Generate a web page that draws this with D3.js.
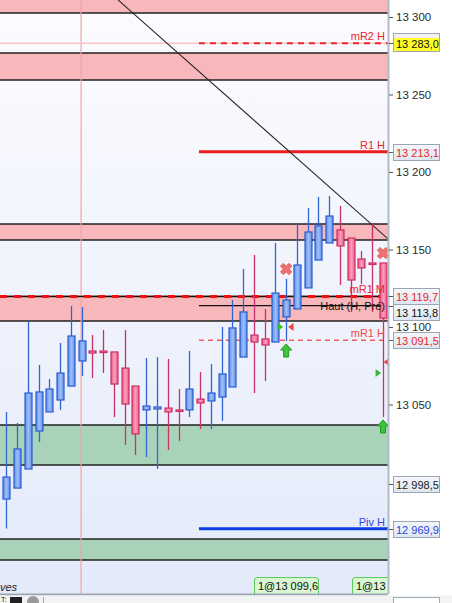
<!DOCTYPE html>
<html><head><meta charset="utf-8">
<script src="https://cdn.jsdelivr.net/npm/d3@7/dist/d3.min.js"></script>
<style>html,body{margin:0;padding:0;background:#fff;overflow:hidden}svg{display:block;font-family:"Liberation Sans",Arial,sans-serif}</style>
</head><body>
<svg id="c" width="452" height="603"></svg>
<script>
// ---- data ----
const opens  = [12989.0,12996.1,13008.4,13032.9,13045.2,13052.9,13061.9,13078.1,13084.5,13084.5,13083.9,13073.5,13061.9,13046.5,13047.1,13047.7,13046.5,13046.5,13053.5,13052.3,13054.8,13061.3,13080.6,13094.8,13092.3,13090.3,13106.5,13111.6,13125.2,13143.2,13154.2,13162.6,13157.4,13143.9,13141.3,13141.3];
const highs  = [13045.2,13038.1,13103.9,13075.5,13066.5,13089.7,13113.5,13112.9,13094.8,13098.1,13083.9,13098.1,13061.9,13080.0,13080.6,13079.4,13060.0,13084.5,13071.0,13076.1,13100.0,13117.4,13137.4,13146.5,13111.6,13154.2,13131.0,13166.5,13176.8,13183.9,13184.5,13178.1,13157.4,13149.0,13167.1,13141.3];
const lows   = [12970.0,12996.1,13008.4,13025.8,13045.2,13046.5,13061.9,13068.4,13067.1,13070.3,13041.9,13023.9,13017.4,13016.1,13008.4,13020.6,13026.5,13041.9,13034.2,13034.2,13039.4,13061.3,13080.6,13057.4,13065.2,13090.3,13091.0,13111.6,13125.2,13143.2,13154.2,13127.1,13109.7,13127.7,13109.7,13041.9];
const closes = [13003.2,13021.3,13057.4,13058.1,13060.0,13070.3,13094.2,13091.0,13083.2,13083.9,13063.2,13050.3,13031.0,13049.0,13048.4,13045.2,13046.3,13060.0,13051.0,13057.4,13069.7,13099.4,13109.7,13090.3,13088.4,13121.9,13117.4,13140.0,13161.3,13165.2,13171.6,13152.3,13130.3,13138.1,13141.0,13105.8];

const tickValues = [13300,13250,13200,13150,13100,13050];

const pinkZoneLow  = [13302.6,13259.4,13156.1,13103.9];
const pinkZoneHigh = [13330.0,13276.8,13166.5,13119.7];
const greenZoneLow  = [13011.0,12949.7];
const greenZoneHigh = [13036.8,12963.2];

const levelNames  = ["mR2 H","R1 H","mR1 M","Haut (H, Pré)","mR1 H","Piv H"];
const levelValues = [13283.0,13213.1,13119.7,13113.8,13091.5,12969.9];
const levelStart  = [17.9,17.9,-1,17.9,17.9,17.9]; // bar index where line begins

const boxValues = [13283.0,13213.1,13119.7,13113.8,13091.5,12998.5,12969.9];

const trendIdx = [10.38,35.47];
const trendVal = [13311.0,13156.8];
const cursorIdx = 6.95;

const crossIdx = [26.0,35.0];           const crossVal = [13137.4,13147.7];
const arrowIdx = [26.0,35.0];           const arrowVal = [13084.5,13035.5];
const triRIdx  = [25.44,34.54];         const triRVal  = [13100.0,13070.3];
const triLIdx  = [26.46,35.33];         const triLVal  = [13100.0,13077.4];

const orderLabels = ["1@13 099,6","1@13 099,6"];
const orderIdx = [23.0,32.13];

// ---- setup ----
const W = 452, H = 603, PW = 388, PB = 594;
const svg = d3.select("#c");
const x = d3.scaleLinear().domain([0,35]).range([6.3,383]);
const y = d3.scaleLinear().domain([13050,13300]).range([404.5,17]);
const loc = d3.formatLocale({decimal:",",thousands:" ",grouping:[3],currency:["",""]});
const fTick = loc.format(",d"), fBox = loc.format(",.1f");

const defs = svg.append("defs");
const bg = defs.append("linearGradient").attr("id","bg").attr("x1",0).attr("x2",0).attr("y1",0).attr("y2",1);
bg.append("stop").attr("offset","0%").attr("stop-color","#fcfcff");
bg.append("stop").attr("offset","100%").attr("stop-color","#e4eafa");
function hgrad(id, edge, mid){
  const g = defs.append("linearGradient").attr("id",id).attr("x1",0).attr("x2",1).attr("y1",0).attr("y2",0);
  g.append("stop").attr("offset","0%").attr("stop-color",edge);
  g.append("stop").attr("offset","50%").attr("stop-color",mid);
  g.append("stop").attr("offset","100%").attr("stop-color",edge);
}
hgrad("gBlue","#5f8fe8","#9dbdf9");
hgrad("gPink","#ec5c88","#fa9cbb");
const bx = defs.append("linearGradient").attr("id","gBox").attr("x1",0).attr("x2",0).attr("y1",0).attr("y2",1);
bx.append("stop").attr("offset","0%").attr("stop-color","#f4f7fb");
bx.append("stop").attr("offset","100%").attr("stop-color","#dde6f1");
defs.append("clipPath").attr("id","plot").append("rect").attr("x",0).attr("y",0).attr("width",PW).attr("height",PB);

svg.append("rect").attr("width",W).attr("height",H).attr("fill","#ffffff");
svg.append("rect").attr("width",PW).attr("height",PB).attr("fill","url(#bg)");

const plot = svg.append("g").attr("clip-path","url(#plot)");

// zones
function zone(lo, hi, fill){
  plot.append("rect").attr("x",0).attr("width",PW).attr("y",y(hi)).attr("height",y(lo)-y(hi)).attr("fill",fill);
  [lo,hi].forEach(v=>plot.append("line").attr("x1",0).attr("x2",PW).attr("y1",y(v)).attr("y2",y(v)).attr("stroke","#222").attr("stroke-width",1.5));
}
pinkZoneLow.forEach((lo,i)=>zone(lo,pinkZoneHigh[i],"#f8b7ba"));
greenZoneLow.forEach((lo,i)=>zone(lo,greenZoneHigh[i],"#a8d3b8"));

// cursor
plot.append("line").attr("x1",x(cursorIdx)).attr("x2",x(cursorIdx)).attr("y1",0).attr("y2",H).attr("stroke","#f2a4a4").attr("stroke-width",1.2);

// faint extension of mR2
plot.append("line").attr("x1",0).attr("x2",PW).attr("y1",y(levelValues[0])).attr("y2",y(levelValues[0])).attr("stroke","#f6c4c6").attr("stroke-width",1.5);

// level lines
const lvlStyle = [
  {c:"#e8262e",w:2,d:"6,5",tc:"#e8262e"},
  {c:"#ee1c1c",w:3,d:null,tc:"#e8262e"},
  {c:"#ee1111",w:3,d:"7,7",tc:"#e8262e"},
  {c:"#111111",w:1.2,d:null,tc:"#111111"},
  {c:"#f25c5c",w:1.5,d:"5,4",tc:"#f04848"},
  {c:"#0a3ee0",w:3,d:null,tc:"#2a46e0"}
];
levelValues.forEach((v,i)=>{
  const s = lvlStyle[i];
  const x1 = levelStart[i] < 0 ? 0 : x(levelStart[i]);
  if(i===2){
    plot.append("line").attr("x1",0).attr("x2",PW).attr("y1",y(v)).attr("y2",y(v)).attr("stroke","#111").attr("stroke-width",1.2);
  }
  const l = plot.append("line").attr("x1",x1).attr("x2",PW).attr("y1",y(v)).attr("y2",y(v)).attr("stroke",s.c).attr("stroke-width",s.w);
  if(s.d) l.attr("stroke-dasharray",s.d);
});

// trend line
plot.append("line").attr("x1",x(trendIdx[0])).attr("y1",y(trendVal[0])).attr("x2",x(trendIdx[1])).attr("y2",y(trendVal[1])).attr("stroke","#222").attr("stroke-width",1.1);

// candles
const cg = plot.append("g");
opens.forEach((o,i)=>{
  const c = closes[i];
  const isBlue = c >= o;
  const cx = Math.round(x(i))+0.5;
  const wick = isBlue ? "#2f64d4" : "#c8306a";
  cg.append("line").attr("x1",cx).attr("x2",cx).attr("y1",y(highs[i])).attr("y2",y(lows[i])).attr("stroke",wick).attr("stroke-width",1.3);
  const top = y(Math.max(o,c)), bot = y(Math.min(o,c));
  const h = Math.max(bot-top, 1.5);
  cg.append("rect").attr("x",cx-3.5).attr("width",7).attr("y",top).attr("height",h)
    .attr("fill", isBlue ? "url(#gBlue)" : "url(#gPink)")
    .attr("stroke", isBlue ? "#2c5ecf" : "#cc2f62").attr("stroke-width",1.2);
});

// markers
const mg = plot.append("g");
crossIdx.forEach((xi,i)=>{
  mg.append("path").attr("d",d3.symbol(d3.symbolCross,80)())
    .attr("transform",`translate(${x(xi)},${y(crossVal[i])}) rotate(45)`)
    .attr("fill","#f07070").attr("stroke","#e05a5a").attr("stroke-width",0.8);
});
arrowIdx.forEach((xi,i)=>{
  const cx = x(xi), cy = y(arrowVal[i]);
  mg.append("path").attr("d",`M${cx},${cy-7} L${cx+5.5},${cy-1} L${cx+2.5},${cy-1} L${cx+2.5},${cy+6} L${cx-2.5},${cy+6} L${cx-2.5},${cy-1} L${cx-5.5},${cy-1} Z`)
    .attr("fill","#3cc43c").attr("stroke","#1f9a1f").attr("stroke-width",1);
});
triRIdx.forEach((xi,i)=>{
  const cx = x(xi), cy = y(triRVal[i]);
  mg.append("path").attr("d",`M${cx-2.5},${cy-4} L${cx+3},${cy} L${cx-2.5},${cy+4} Z`).attr("fill","#33bb33");
});
triLIdx.forEach((xi,i)=>{
  const cx = x(xi), cy = y(triLVal[i]);
  mg.append("path").attr("d",`M${cx+2.5},${cy-4} L${cx-3},${cy} L${cx+2.5},${cy+4} Z`).attr("fill","#e84848");
});

// level labels
const lg = plot.append("g").attr("font-size",11);
levelNames.forEach((n,i)=>{
  const s = lvlStyle[i];
  const yy = y(levelValues[i]);
  const dy = i===3 ? 4 : -3;
  lg.append("text").attr("x",385).attr("y",yy+dy).attr("text-anchor","end").attr("fill",s.tc).text(n);
});

// order labels
orderIdx.forEach((xi,i)=>{
  const x0 = Math.round(x(xi));
  const g = plot.append("g");
  g.append("path").attr("d",`M${x0+0.5},${PB} L${x0+0.5},${580} Q${x0+0.5},${577.5} ${x0+3},${577.5} L${x0+61},${577.5} Q${x0+64.5},${577.5} ${x0+64.5},${580} L${x0+64.5},${PB}`)
    .attr("fill","#d8f7d2").attr("stroke","#5ccc5c").attr("stroke-width",1);
  g.append("text").attr("x",x0+4).attr("y",590).attr("font-size",11).attr("fill","#111").text(orderLabels[i]);
});

// bottom text
plot.append("text").attr("x",0).attr("y",591).attr("font-size",11).attr("font-style","italic").attr("fill","#222").text("ves");

// bottom bar
svg.append("line").attr("x1",0).attr("x2",PW).attr("y1",PB+0.5).attr("y2",PB+0.5).attr("stroke","#9ca6b0").attr("stroke-width",2);
svg.append("rect").attr("x",0).attr("y",PB+1.5).attr("width",W).attr("height",H-PB-1.5).attr("fill","#f2f3f5");
svg.append("text").attr("x",1).attr("y",602).attr("font-size",7).attr("fill","#222").text("T:");
svg.append("rect").attr("x",10).attr("y",597).attr("width",12).attr("height",6).attr("fill","#222");
svg.append("circle").attr("cx",33).attr("cy",602).attr("r",6).attr("fill","#9a9a9a");
svg.append("line").attr("x1",43.5).attr("x2",43.5).attr("y1",597).attr("y2",603).attr("stroke","#9ca6b0");
svg.append("rect").attr("x",393.5).attr("y",597.5).attr("width",46).attr("height",8).attr("fill","#fff").attr("stroke","#a0acb8");

// axis
svg.append("line").attr("x1",PW+0.5).attr("x2",PW+0.5).attr("y1",0).attr("y2",PB).attr("stroke","#b2bcc8").attr("stroke-width",2);
const axis = d3.axisRight(y).tickValues(tickValues).tickFormat(fTick).tickSize(4).tickPadding(3);
const ag = svg.append("g").attr("transform",`translate(${PW+1},0)`).call(axis);
ag.select(".domain").remove();
ag.selectAll(".tick line").attr("stroke","#555");
ag.selectAll(".tick text").attr("font-size",11.5).attr("fill","#2a2a2a").attr("font-family","'Liberation Sans',Arial,sans-serif");

// value boxes (stacked so they do not overlap)
const boxText = ["#111","#e8262e","#e8262e","#111","#e8262e","#222","#2a46e0"];
let prevBottom = -100;
boxValues.forEach((v,i)=>{
  const vy = Math.round(y(v));
  let cy = vy;
  const bh = i===0 ? 18 : 16;
  if (cy - bh/2 < prevBottom) cy = prevBottom + bh/2;
  prevBottom = cy + bh/2;
  svg.append("line").attr("x1",PW+1).attr("x2",393).attr("y1",vy+0.5).attr("y2",vy+0.5).attr("stroke","#555");
  if(i===0){
    svg.append("rect").attr("x",393.5).attr("y",cy-9.5).attr("width",46).attr("height",18).attr("fill","#f2f2f2").attr("stroke","#9aa6b4");
    svg.append("rect").attr("x",394).attr("y",cy-5).attr("width",45).attr("height",13).attr("fill","#ffff2a");
  } else {
    svg.append("rect").attr("x",393.5).attr("y",cy-7.5).attr("width",46).attr("height",16).attr("fill","url(#gBox)").attr("stroke","#9aa6b4");
  }
  svg.append("text").attr("x",396).attr("y",cy+4.5).attr("font-size",11).attr("fill",boxText[i]).text(fBox(v));
});
</script>
</body></html>
